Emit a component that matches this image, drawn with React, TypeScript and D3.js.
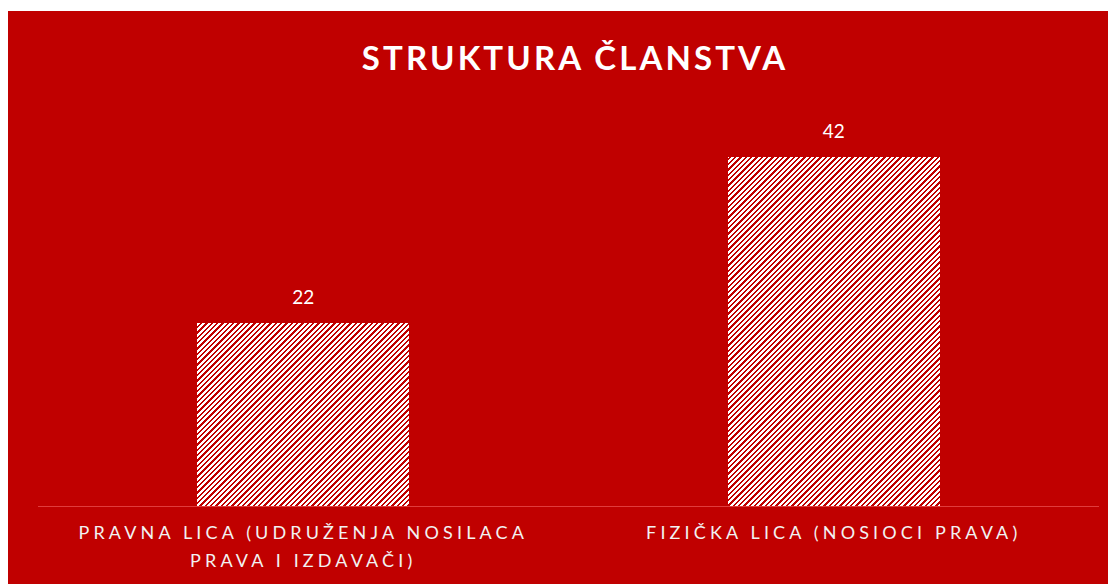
import React from "react";
import * as d3 from "d3";

const title = "STRUKTURA ČLANSTVA";
const categories = ["PRAVNA LICA (UDRUŽENJA NOSILACA PRAVA I IZDAVAČI)", "FIZIČKA LICA (NOSIOCI PRAVA)"];
const values = [22, 42];
const yDomain = [0, 50];

const W = 1108;
const H = 576;
const BG = "#C00000";

function wrap(text: string, maxChars: number): string[] {
  const words = text.split(" ");
  const lines: string[] = [];
  let cur = "";
  for (const w of words) {
    const next = cur ? cur + " " + w : w;
    if (next.length > maxChars && cur) {
      lines.push(cur);
      cur = w;
    } else cur = next;
  }
  if (cur) lines.push(cur);
  return lines;
}

const TILE = 16;
const PERIOD = 16 / 3;
const hatchCells: [number, number][] = [];
for (let py = 0; py < TILE; py++) {
  for (let px = 0; px < TILE; px++) {
    if (((px + py) % PERIOD) < 2.1) hatchCells.push([px, py]);
  }
}

export default function App() {
  const left = 30, right = 1091;
  const baseY = 498;
  const x = d3.scaleBand<string>().domain(categories).range([left, right]).padding(0);
  const y = d3.scaleLinear().domain(yDomain).range([baseY, 82.5]);
  const barW = x.bandwidth() * 0.4;
  const font = "Lato, 'Open Sans', sans-serif";

  return (
    <svg width={W} height={H} style={{ display: "block" }}>
      <defs>
        <pattern id="hatch" width={TILE} height={TILE} patternUnits="userSpaceOnUse">
          <rect width={TILE} height={TILE} fill="#ffffff" />
          {hatchCells.map(([cx, cy], k) => (
            <rect key={k} x={cx} y={cy} width={1} height={1} fill={BG} shapeRendering="crispEdges" />
          ))}
        </pattern>
      </defs>
      <rect x={0} y={3} width={W} height={H - 3} fill={BG} />
      <text x={567} y={62} textAnchor="middle" fill="#ffffff" fontFamily={font}
        fontWeight={700} fontSize={33} letterSpacing={3.1}>{title}</text>
      {categories.map((c, i) => {
        const cx = (x(c) as number) + x.bandwidth() / 2;
        const v = values[i];
        return (
          <g key={c}>
            <rect x={Math.round(cx - barW / 2)} y={Math.round(y(v))} width={Math.round(barW)} height={baseY - Math.round(y(v))} fill="url(#hatch)" shapeRendering="crispEdges" />
            <text x={cx} y={y(v) - 19} textAnchor="middle" fill="#ffffff" fontFamily={font} fontSize={19}>{v}</text>
          </g>
        );
      })}
      <line x1={left} x2={right} y1={baseY + 0.5} y2={baseY + 0.5} stroke="#E03C3C" strokeWidth={1} />
      {categories.map((c) => {
        const cx = (x(c) as number) + x.bandwidth() / 2;
        const lines = wrap(c, 32);
        return (
          <text key={"l" + c} textAnchor="middle" fill="#F2F2F2" fontFamily={font} fontSize={18} letterSpacing={4.15}>
            {lines.map((ln, j) => (
              <tspan key={j} x={cx} y={531 + j * 28}>{ln}</tspan>
            ))}
          </text>
        );
      })}
    </svg>
  );
}
